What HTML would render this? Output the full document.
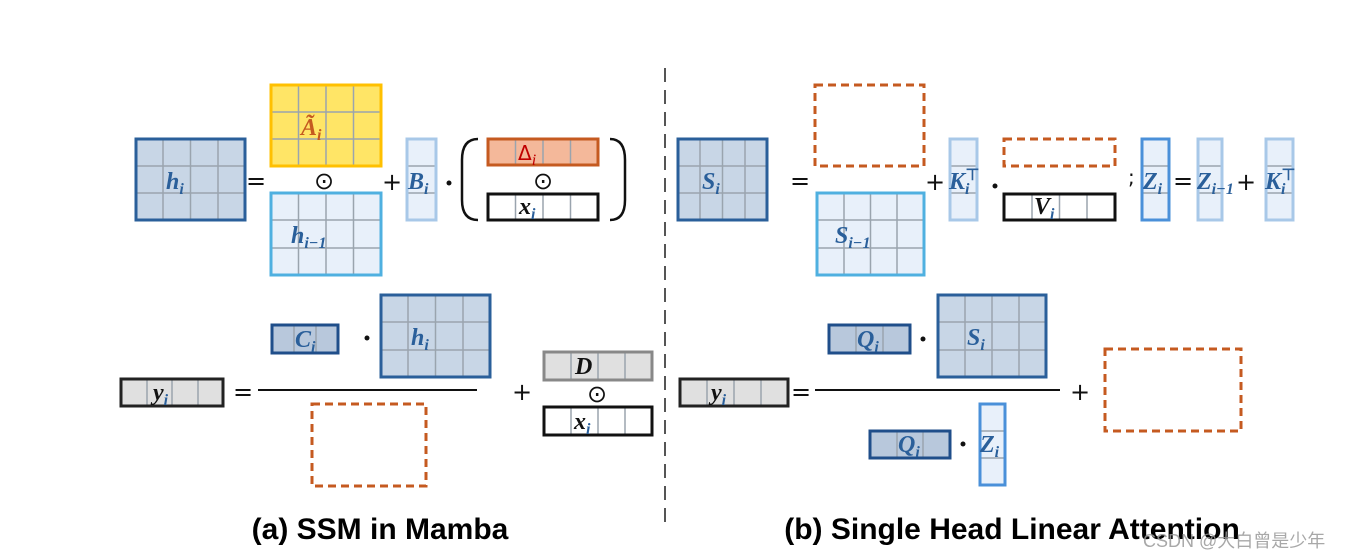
<!DOCTYPE html>
<html><head><meta charset="utf-8"><style>
html,body{margin:0;padding:0;background:#fff;}
svg{display:block}
.g{stroke:#9aa4ae;stroke-width:1.5}
.lb{font-family:"Liberation Serif",serif;font-weight:bold;font-style:italic;font-size:24px;fill:#2a5f9a}
.sb{font-family:"Liberation Serif",serif;font-style:italic;font-size:16px}
.op{font-family:"DejaVu Sans",sans-serif;font-size:24px;fill:#111}
.t{font-family:"Liberation Sans",sans-serif;font-weight:bold;font-size:30px;fill:#000}
</style></head><body>
<svg width="1349" height="559" viewBox="0 0 1349 559" xmlns="http://www.w3.org/2000/svg">
<line x1="665" y1="68" x2="665" y2="525" stroke="#555" stroke-width="2" stroke-dasharray="14,8"/>

<!-- LEFT TOP -->
<rect x="136" y="139" width="109" height="81" fill="#c8d6e6"/>
<g class="g"><line x1="163" y1="139" x2="163" y2="220"/><line x1="190.5" y1="139" x2="190.5" y2="220"/><line x1="218" y1="139" x2="218" y2="220"/><line x1="136" y1="166" x2="245" y2="166"/><line x1="136" y1="193" x2="245" y2="193"/></g>
<rect x="136" y="139" width="109" height="81" fill="none" stroke="#2a5f9a" stroke-width="3"/>
<text x="166" y="189" class="lb">h<tspan class="sb" dy="5">i</tspan></text>
<text x="256" y="189" class="op" text-anchor="middle">=</text>

<rect x="271" y="85" width="110" height="81" fill="#ffe566"/>
<g class="g"><line x1="298.5" y1="85" x2="298.5" y2="166"/><line x1="326" y1="85" x2="326" y2="166"/><line x1="353.5" y1="85" x2="353.5" y2="166"/><line x1="271" y1="112" x2="381" y2="112"/><line x1="271" y1="139" x2="381" y2="139"/></g>
<rect x="271" y="85" width="110" height="81" fill="none" stroke="#ffc000" stroke-width="3"/>
<text x="301" y="135" class="lb" style="fill:#c55a20">Ã<tspan class="sb" dy="5">i</tspan></text>
<text x="324" y="189" class="op" text-anchor="middle">⊙</text>

<rect x="271" y="193" width="110" height="82" fill="#e8f0fa"/>
<g class="g"><line x1="298.5" y1="193" x2="298.5" y2="275"/><line x1="326" y1="193" x2="326" y2="275"/><line x1="353.5" y1="193" x2="353.5" y2="275"/><line x1="271" y1="220" x2="381" y2="220"/><line x1="271" y1="248" x2="381" y2="248"/></g>
<rect x="271" y="193" width="110" height="82" fill="none" stroke="#4fb0e0" stroke-width="3"/>
<text x="291" y="243" class="lb">h<tspan class="sb" dy="5">i−1</tspan></text>

<text x="392" y="190" class="op" text-anchor="middle">+</text>
<rect x="407" y="139" width="29" height="81" fill="#e8f0fa"/>
<g class="g"><line x1="407" y1="166" x2="436" y2="166"/><line x1="407" y1="193" x2="436" y2="193"/></g>
<rect x="407" y="139" width="29" height="81" fill="none" stroke="#a8c8e8" stroke-width="3"/>
<text x="408" y="189" class="lb">B<tspan class="sb" dy="5">i</tspan></text>
<circle cx="449" cy="183" r="2.5" fill="#111"/>
<path d="M478 139 Q462 139 462 160 L462 200 Q462 220 478 220" fill="none" stroke="#111" stroke-width="2.5"/>
<path d="M610 139 Q625 139 625 160 L625 200 Q625 220 610 220" fill="none" stroke="#111" stroke-width="2.5"/>
<rect x="488" y="139" width="110" height="26" fill="#f4b89a"/>
<g class="g"><line x1="515.5" y1="139" x2="515.5" y2="165"/><line x1="543" y1="139" x2="543" y2="165"/><line x1="570.5" y1="139" x2="570.5" y2="165"/></g>
<rect x="488" y="139" width="110" height="26" fill="none" stroke="#c55a20" stroke-width="3"/>
<text x="518" y="160" style="fill:#c00000;font-family:'DejaVu Sans',sans-serif;font-size:20px">Δ<tspan class="sb" dy="5">i</tspan></text>
<text x="543" y="189" class="op" text-anchor="middle">⊙</text>
<rect x="488" y="194" width="110" height="26" fill="#fff"/>
<g class="g"><line x1="515.5" y1="194" x2="515.5" y2="220"/><line x1="543" y1="194" x2="543" y2="220"/><line x1="570.5" y1="194" x2="570.5" y2="220"/></g>
<rect x="488" y="194" width="110" height="26" fill="none" stroke="#111" stroke-width="3"/>
<text x="519" y="214" class="lb" style="fill:#111">x<tspan class="sb" dy="5" style="fill:#2a5f9a">i</tspan></text>

<!-- RIGHT TOP -->
<rect x="678" y="139" width="89" height="81" fill="#c8d6e6"/>
<g class="g"><line x1="700" y1="139" x2="700" y2="220"/><line x1="722.5" y1="139" x2="722.5" y2="220"/><line x1="745" y1="139" x2="745" y2="220"/><line x1="678" y1="166" x2="767" y2="166"/><line x1="678" y1="193" x2="767" y2="193"/></g>
<rect x="678" y="139" width="89" height="81" fill="none" stroke="#2a5f9a" stroke-width="3"/>
<text x="702" y="189" class="lb">S<tspan class="sb" dy="5">i</tspan></text>
<text x="800" y="189" class="op" text-anchor="middle">=</text>
<rect x="815" y="85" width="109" height="81" fill="none" stroke="#c55a20" stroke-width="3" stroke-dasharray="8,5"/>
<rect x="817" y="193" width="107" height="82" fill="#e8f0fa"/>
<g class="g"><line x1="844" y1="193" x2="844" y2="275"/><line x1="870.5" y1="193" x2="870.5" y2="275"/><line x1="897" y1="193" x2="897" y2="275"/><line x1="817" y1="220" x2="924" y2="220"/><line x1="817" y1="248" x2="924" y2="248"/></g>
<rect x="817" y="193" width="107" height="82" fill="none" stroke="#4fb0e0" stroke-width="3"/>
<text x="835" y="243" class="lb">S<tspan class="sb" dy="5">i−1</tspan></text>
<text x="935" y="190" class="op" text-anchor="middle">+</text>
<rect x="950" y="139" width="27" height="81" fill="#e8f0fa"/>
<g class="g"><line x1="950" y1="166" x2="977" y2="166"/><line x1="950" y1="193" x2="977" y2="193"/></g>
<rect x="950" y="139" width="27" height="81" fill="none" stroke="#a8c8e8" stroke-width="3"/>
<text x="949" y="189" class="lb">K<tspan class="sb" dy="5">i</tspan><tspan class="sb" dy="-14" dx="-4" style="font-style:normal;fill:#2a5f9a">⊤</tspan></text>
<circle cx="995" cy="186" r="2.5" fill="#111"/>
<rect x="1004" y="139" width="111" height="27" fill="none" stroke="#c55a20" stroke-width="3" stroke-dasharray="8,5"/>
<rect x="1004" y="194" width="111" height="26" fill="#fff"/>
<g class="g"><line x1="1032" y1="194" x2="1032" y2="220"/><line x1="1059.5" y1="194" x2="1059.5" y2="220"/><line x1="1087" y1="194" x2="1087" y2="220"/></g>
<rect x="1004" y="194" width="111" height="26" fill="none" stroke="#111" stroke-width="3"/>
<text x="1034" y="214" class="lb" style="fill:#111">V<tspan class="sb" dy="5" style="fill:#2a5f9a">i</tspan></text>
<text x="1128" y="184" class="op" style="font-size:20px">;</text>
<rect x="1142" y="139" width="27" height="81" fill="#e8f0fa"/>
<g class="g"><line x1="1142" y1="166" x2="1169" y2="166"/><line x1="1142" y1="193" x2="1169" y2="193"/></g>
<rect x="1142" y="139" width="27" height="81" fill="none" stroke="#4a90d9" stroke-width="3"/>
<text x="1143" y="189" class="lb">Z<tspan class="sb" dy="5">i</tspan></text>
<text x="1183" y="189" class="op" text-anchor="middle">=</text>
<rect x="1198" y="139" width="24" height="81" fill="#e8f0fa"/>
<g class="g"><line x1="1198" y1="166" x2="1222" y2="166"/><line x1="1198" y1="193" x2="1222" y2="193"/></g>
<rect x="1198" y="139" width="24" height="81" fill="none" stroke="#a8c8e8" stroke-width="3"/>
<text x="1197" y="189" class="lb">Z<tspan class="sb" dy="5">i−1</tspan></text>
<text x="1246" y="190" class="op" text-anchor="middle">+</text>
<rect x="1266" y="139" width="27" height="81" fill="#e8f0fa"/>
<g class="g"><line x1="1266" y1="166" x2="1293" y2="166"/><line x1="1266" y1="193" x2="1293" y2="193"/></g>
<rect x="1266" y="139" width="27" height="81" fill="none" stroke="#a8c8e8" stroke-width="3"/>
<text x="1265" y="189" class="lb">K<tspan class="sb" dy="5">i</tspan><tspan class="sb" dy="-14" dx="-4" style="font-style:normal;fill:#2a5f9a">⊤</tspan></text>

<!-- LEFT BOTTOM -->
<rect x="121" y="379" width="102" height="27" fill="#e0e0e0"/>
<g class="g"><line x1="147" y1="379" x2="147" y2="406"/><line x1="172" y1="379" x2="172" y2="406"/><line x1="198" y1="379" x2="198" y2="406"/></g>
<rect x="121" y="379" width="102" height="27" fill="none" stroke="#222" stroke-width="3"/>
<text x="153" y="400" class="lb" style="fill:#111">y<tspan class="sb" dy="5" style="fill:#2a5f9a">i</tspan></text>
<text x="243" y="400" class="op" text-anchor="middle">=</text>
<line x1="258" y1="390" x2="477" y2="390" stroke="#111" stroke-width="2"/>
<rect x="272" y="325" width="66" height="28" fill="#b8c8dc"/>
<g class="g"><line x1="294" y1="325" x2="294" y2="353"/><line x1="316" y1="325" x2="316" y2="353"/></g>
<rect x="272" y="325" width="66" height="28" fill="none" stroke="#1f4e8a" stroke-width="3"/>
<text x="295" y="347" class="lb">C<tspan class="sb" dy="5">i</tspan></text>
<circle cx="367" cy="338" r="2.5" fill="#111"/>
<rect x="381" y="295" width="109" height="82" fill="#c8d6e6"/>
<g class="g"><line x1="408" y1="295" x2="408" y2="377"/><line x1="435.5" y1="295" x2="435.5" y2="377"/><line x1="463" y1="295" x2="463" y2="377"/><line x1="381" y1="322" x2="490" y2="322"/><line x1="381" y1="350" x2="490" y2="350"/></g>
<rect x="381" y="295" width="109" height="82" fill="none" stroke="#2a5f9a" stroke-width="3"/>
<text x="411" y="345" class="lb">h<tspan class="sb" dy="5">i</tspan></text>
<rect x="312" y="404" width="114" height="82" fill="none" stroke="#c55a20" stroke-width="3" stroke-dasharray="8,5"/>
<text x="522" y="400" class="op" text-anchor="middle">+</text>
<rect x="544" y="352" width="108" height="28" fill="#e0e0e0"/>
<g class="g"><line x1="571" y1="352" x2="571" y2="380"/><line x1="598" y1="352" x2="598" y2="380"/><line x1="625" y1="352" x2="625" y2="380"/></g>
<rect x="544" y="352" width="108" height="28" fill="none" stroke="#888" stroke-width="3"/>
<text x="575" y="374" class="lb" style="fill:#111">D</text>
<text x="597" y="402" class="op" text-anchor="middle">⊙</text>
<rect x="544" y="407" width="108" height="28" fill="#fff"/>
<g class="g"><line x1="571" y1="407" x2="571" y2="435"/><line x1="598" y1="407" x2="598" y2="435"/><line x1="625" y1="407" x2="625" y2="435"/></g>
<rect x="544" y="407" width="108" height="28" fill="none" stroke="#111" stroke-width="3"/>
<text x="574" y="429" class="lb" style="fill:#111">x<tspan class="sb" dy="5" style="fill:#2a5f9a">i</tspan></text>

<!-- RIGHT BOTTOM -->
<rect x="680" y="379" width="108" height="27" fill="#e0e0e0"/>
<g class="g"><line x1="707" y1="379" x2="707" y2="406"/><line x1="734" y1="379" x2="734" y2="406"/><line x1="761" y1="379" x2="761" y2="406"/></g>
<rect x="680" y="379" width="108" height="27" fill="none" stroke="#222" stroke-width="3"/>
<text x="711" y="400" class="lb" style="fill:#111">y<tspan class="sb" dy="5" style="fill:#2a5f9a">i</tspan></text>
<text x="801" y="400" class="op" text-anchor="middle">=</text>
<line x1="815" y1="390" x2="1060" y2="390" stroke="#111" stroke-width="2"/>
<rect x="829" y="325" width="81" height="28" fill="#b8c8dc"/>
<g class="g"><line x1="856" y1="325" x2="856" y2="353"/><line x1="883" y1="325" x2="883" y2="353"/></g>
<rect x="829" y="325" width="81" height="28" fill="none" stroke="#1f4e8a" stroke-width="3"/>
<text x="857" y="347" class="lb">Q<tspan class="sb" dy="5">i</tspan></text>
<circle cx="923" cy="339" r="2.5" fill="#111"/>
<rect x="938" y="295" width="108" height="82" fill="#c8d6e6"/>
<g class="g"><line x1="965" y1="295" x2="965" y2="377"/><line x1="992" y1="295" x2="992" y2="377"/><line x1="1019" y1="295" x2="1019" y2="377"/><line x1="938" y1="322" x2="1046" y2="322"/><line x1="938" y1="350" x2="1046" y2="350"/></g>
<rect x="938" y="295" width="108" height="82" fill="none" stroke="#2a5f9a" stroke-width="3"/>
<text x="967" y="345" class="lb">S<tspan class="sb" dy="5">i</tspan></text>
<text x="1080" y="400" class="op" text-anchor="middle">+</text>
<rect x="1105" y="349" width="136" height="82" fill="none" stroke="#c55a20" stroke-width="3" stroke-dasharray="8,5"/>
<rect x="870" y="431" width="80" height="27" fill="#b8c8dc"/>
<g class="g"><line x1="897" y1="431" x2="897" y2="458"/><line x1="923" y1="431" x2="923" y2="458"/></g>
<rect x="870" y="431" width="80" height="27" fill="none" stroke="#1f4e8a" stroke-width="3"/>
<text x="898" y="452" class="lb">Q<tspan class="sb" dy="5">i</tspan></text>
<circle cx="963" cy="444" r="2.5" fill="#111"/>
<rect x="980" y="404" width="25" height="81" fill="#e8f0fa"/>
<g class="g"><line x1="980" y1="431" x2="1005" y2="431"/><line x1="980" y1="458" x2="1005" y2="458"/></g>
<rect x="980" y="404" width="25" height="81" fill="none" stroke="#4a90d9" stroke-width="3"/>
<text x="980" y="452" class="lb">Z<tspan class="sb" dy="5">i</tspan></text>

<!-- titles -->
<text x="380" y="539" class="t" text-anchor="middle">(a) SSM in Mamba</text>
<text x="1012" y="539" class="t" text-anchor="middle">(b) Single Head Linear Attention</text>
<text x="1143" y="547" style="font-family:'Liberation Sans','Noto Sans CJK SC',sans-serif;font-size:18px;fill:#999;opacity:0.85">CSDN @大白曾是少年</text>
</svg>
</body></html>
